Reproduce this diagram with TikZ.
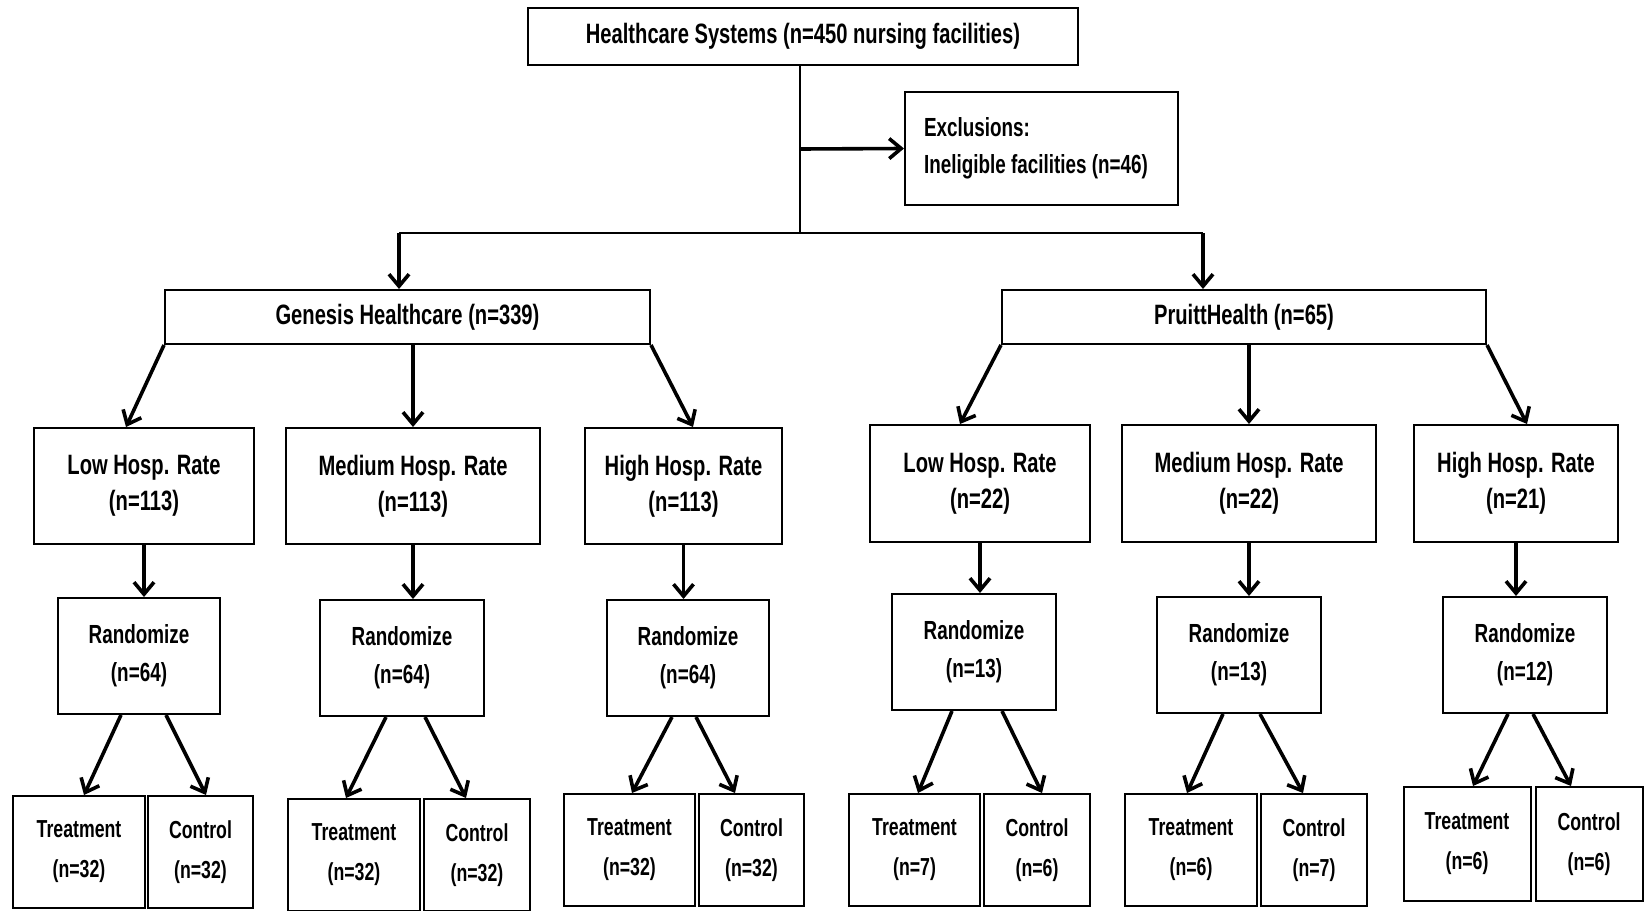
\documentclass[tikz,border=0pt]{standalone}
\usepackage{fontspec}
\setmainfont{Liberation Sans}[FakeStretch=0.72]
\usepackage{tikz}
\usetikzlibrary{calc,arrows.meta}

\tikzset{
	box/.style={draw, line width=2pt, align=center, inner sep=0pt, font=\bfseries\fontsize{28}{36}\selectfont},
	randbox/.style={box, minimum width=162pt, minimum height=116pt, font=\bfseries\fontsize{26.2}{38}\selectfont},
	armbox/.style={box, anchor=north, minimum height=112pt, font=\bfseries\fontsize{24.6}{40}\selectfont},
	link/.style={line width=2pt},
	arr/.style={line width=3.6pt, -{Straight Barb[length=12pt,width=20pt,line width=3.6pt]}},
}

\begin{document}
\begin{tikzpicture}[x=1pt,y=-1pt]
			%%%%% START %%%%%
			\useasboundingbox (0,0) rectangle (1646,910);
			
			\node[box, minimum width=550pt, minimum height=57pt] (sys) at (803,36.5) {Healthcare Systems (n=450 nursing facilities)};
			\node[box, align=flush left, text width=235pt, inner xsep=19pt, minimum height=113pt, font=\bfseries\fontsize{26.2}{37}\selectfont] (excl) at (1041.5,148.5) {Exclusions:\\Ineligible facilities (n=46)};
			
			\coordinate (excljoin) at (800,149);
			\coordinate (split) at (800,233);
			\coordinate (genjoin) at (399,233);
			\coordinate (prujoin) at (1203,233);
			
			\draw[link] (sys.south -| split) -- (split);
			\draw[arr] (excljoin) -- (excl.west);
			\draw[link] (genjoin) -- (prujoin);
			
			\node[box, minimum width=485pt, minimum height=54pt] (gen) at (407.5,317) {Genesis Healthcare (n=339)};
			\node[box, minimum width=484pt, minimum height=54pt] (pru) at (1244,317) {PruittHealth (n=65)};
			
			\draw[arr] (genjoin) -- (genjoin |- gen.north);
			\draw[arr] (prujoin) -- (prujoin |- pru.north);
			
			% hospitalisation rate groups
			\node[box, minimum width=220pt, minimum height=116pt] (gl) at (144,486) {Low Hosp. Rate\\(n=113)};
			\node[box, minimum width=254pt, minimum height=116pt] (gm) at (413,486) {Medium Hosp. Rate\\(n=113)};
			\node[box, minimum width=197pt, minimum height=116pt] (gh) at (683.5,486) {High Hosp. Rate\\(n=113)};
			\node[box, minimum width=220pt, minimum height=117pt] (pl) at (980,483.5) {Low Hosp. Rate\\(n=22)};
			\node[box, minimum width=254pt, minimum height=117pt] (pm) at (1249,483.5) {Medium Hosp. Rate\\(n=22)};
			\node[box, minimum width=204pt, minimum height=117pt] (ph) at (1516,483.5) {High Hosp. Rate\\(n=21)};
			
			\draw[arr] (gen.south west) -- ($(gl.north)+(-18,0)$);
			\draw[arr] (gm.north |- gen.south) -- (gm.north);
			\draw[arr] (gen.south east) -- ($(gh.north)+(9.5,0)$);
			\draw[arr] (pru.south west) -- ($(pl.north)+(-20,0)$);
			\draw[arr] (pm.north |- pru.south) -- (pm.north);
			\draw[arr] (pru.south east) -- ($(ph.north)+(11,0)$);
			
			% randomisation
			\node[randbox] (rg1) at (139,656) {Randomize\\(n=64)};
			\node[randbox, minimum width=164pt] (rg2) at (402,658) {Randomize\\(n=64)};
			\node[randbox] (rg3) at (688,658) {Randomize\\(n=64)};
			\node[randbox, minimum width=164pt] (rp1) at (974,652) {Randomize\\(n=13)};
			\node[randbox, minimum width=164pt] (rp2) at (1239,655) {Randomize\\(n=13)};
			\node[randbox, minimum width=164pt] (rp3) at (1525,655) {Randomize\\(n=12)};
			
			\draw[arr] (gl.south) -- (gl.south |- rg1.north);
			\draw[arr] (gm.south) -- (gm.south |- rg2.north);
			\draw[arr] (gh.south) -- (gh.south |- rg3.north);
			\draw[arr] (pl.south) -- (pl.south |- rp1.north);
			\draw[arr] (pm.south) -- (pm.south |- rp2.north);
			\draw[arr] (ph.south) -- (ph.south |- rp3.north);
			
			% arms
			\node[armbox, minimum width=132pt] (tg1) at (79,795) {Treatment\\(n=32)};
			\node[armbox, minimum width=105pt] (cg1) at (200.5,795) {Control\\(n=32)};
			\node[armbox, minimum width=132pt] (tg2) at (354,798) {Treatment\\(n=32)};
			\node[armbox, minimum width=106pt] (cg2) at (477,798) {Control\\(n=32)};
			\node[armbox, minimum width=131pt] (tg3) at (629.5,793) {Treatment\\(n=32)};
			\node[armbox, minimum width=105pt] (cg3) at (751.5,793) {Control\\(n=32)};
			\node[armbox, minimum width=131pt] (tp1) at (914.5,793) {Treatment\\(n=7)};
			\node[armbox, minimum width=106pt] (cp1) at (1037,793) {Control\\(n=6)};
			\node[armbox, minimum width=132pt] (tp2) at (1191,793) {Treatment\\(n=6)};
			\node[armbox, minimum width=106pt] (cp2) at (1314,793) {Control\\(n=7)};
			\node[armbox, minimum width=127pt, minimum height=114pt] (tp3) at (1467,786) {Treatment\\(n=6)};
			\node[armbox, minimum width=107pt, minimum height=114pt] (cp3) at (1589,786) {Control\\(n=6)};
			
			\draw[arr] ($(rg1.south)+(-18,0)$) -- ($(tg1.north)+(5,0)$);
			\draw[arr] ($(rg1.south)+(27,0)$) -- ($(cg1.north)+(5.5,0)$);
			\draw[arr] ($(rg2.south)+(-16,0)$) -- ($(tg2.north)+(-8,0)$);
			\draw[arr] ($(rg2.south)+(23,0)$) -- ($(cg2.north)+(-11,0)$);
			\draw[arr] ($(rg3.south)+(-16,0)$) -- ($(tg3.north)+(2.5,0)$);
			\draw[arr] ($(rg3.south)+(8,0)$) -- ($(cg3.north)+(-16.5,0)$);
			\draw[arr] ($(rp1.south)+(-22,0)$) -- ($(tp1.north)+(3.5,0)$);
			\draw[arr] ($(rp1.south)+(28,0)$) -- ($(cp1.north)+(5,0)$);
			\draw[arr] ($(rp2.south)+(-16,0)$) -- ($(tp2.north)+(-4,0)$);
			\draw[arr] ($(rp2.south)+(21,0)$) -- ($(cp2.north)+(-11,0)$);
			\draw[arr] ($(rp3.south)+(-17,0)$) -- ($(tp3.north)+(6,0)$);
			\draw[arr] ($(rp3.south)+(8,0)$) -- ($(cp3.north)+(-18,0)$);
			
			%%%%% END %%%%%
\end{tikzpicture}
\end{document}
